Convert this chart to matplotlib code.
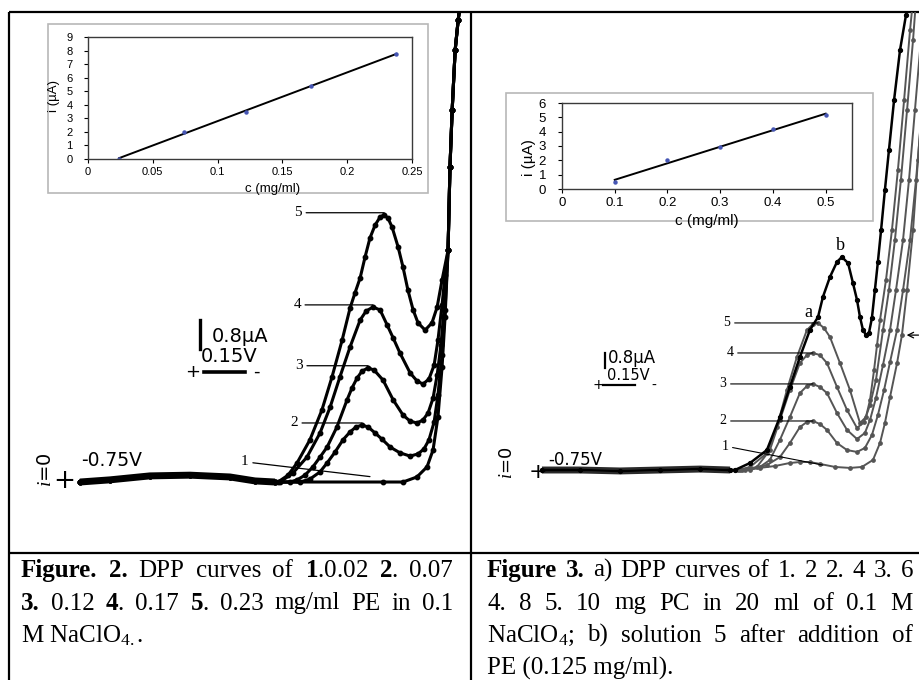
import numpy as np
import matplotlib
matplotlib.use('Agg')
import matplotlib.pyplot as plt
from matplotlib.patches import Rectangle
from matplotlib.ticker import FormatStrFormatter

plt.rcParams['font.family'] = ['DejaVu Sans']
plt.rcParams['mathtext.fontset'] = 'custom'
plt.rcParams['mathtext.rm'] = 'Liberation Serif'
plt.rcParams['mathtext.bf'] = 'Liberation Serif:bold'
plt.rcParams['mathtext.it'] = 'Liberation Serif:italic'

# ---- Figure 2 : DPP curves of PE (potential V, current uA) ----
fig2_base_E = [-0.75, -0.86, -1.006, -1.153, -1.299, -1.391, -1.464]
fig2_base_i = [0.0, 0.06, 0.17, 0.19, 0.14, 0.03, 0.0]
fig2_tail_E = [-2.098, -2.105, -2.113, -2.124, -2.135, -2.142]
fig2_tail_i = [6.44, 8.75, 10.33, 12.0, 12.83, 13.25]

fig2_c1_E = [-1.860, -1.933, -1.984, -2.021, -2.043, -2.061, -2.076, -2.087]
fig2_c1_i = [0.0, 0.0, 0.14, 0.42, 0.89, 1.81, 3.19, 4.58]
fig2_c2_E = [-1.556, -1.592, -1.629, -1.655, -1.684, -1.713, -1.739, -1.761, -1.783, -1.805, -1.831, -1.856,
             -1.886, -1.922, -1.959, -1.988, -2.010, -2.028, -2.047, -2.061, -2.076, -2.087]
fig2_c2_i = [0.0, 0.08, 0.28, 0.53, 0.83, 1.17, 1.39, 1.53, 1.58, 1.53, 1.36, 1.19,
             0.97, 0.81, 0.72, 0.78, 0.92, 1.17, 1.67, 2.42, 3.53, 4.78]
fig2_c3_E = [-1.519, -1.545, -1.574, -1.603, -1.629, -1.655, -1.691, -1.728, -1.746, -1.765, -1.783, -1.805,
             -1.827, -1.860, -1.897, -1.933, -1.959, -1.984, -2.006, -2.025, -2.043, -2.058, -2.072, -2.083]
fig2_c3_i = [0.0, 0.06, 0.19, 0.42, 0.69, 0.97, 1.53, 2.28, 2.61, 2.89, 3.08, 3.17,
             3.11, 2.83, 2.28, 1.86, 1.69, 1.64, 1.72, 1.92, 2.33, 2.97, 3.81, 4.78]
fig2_c4_E = [-1.483, -1.530, -1.581, -1.629, -1.666, -1.702, -1.739, -1.776, -1.798, -1.823, -1.849,
             -1.875, -1.897, -1.922, -1.959, -1.984, -2.006, -2.028, -2.047, -2.061, -2.076, -2.087]
fig2_c4_i = [0.0, 0.25, 0.69, 1.36, 2.08, 2.92, 3.75, 4.5, 4.75, 4.86, 4.78,
             4.36, 4.0, 3.58, 3.03, 2.81, 2.72, 2.86, 3.25, 3.94, 4.92, 5.75]
fig2_c5_E = [-1.475, -1.512, -1.545, -1.592, -1.636, -1.673, -1.710, -1.739, -1.757, -1.776, -1.794, -1.812,
             -1.831, -1.849, -1.864, -1.878, -1.893, -1.915, -1.933, -1.951, -1.970, -1.988, -2.014,
             -2.039, -2.058, -2.076]
fig2_c5_i = [0.0, 0.19, 0.53, 1.17, 2.0, 2.92, 3.94, 4.83, 5.25, 5.67, 6.25, 6.78,
             7.14, 7.36, 7.42, 7.33, 7.08, 6.53, 5.97, 5.33, 4.78, 4.42, 4.22,
             4.42, 4.86, 5.61]

# inset of fig 2: calibration
fig2_conc = [0.024, 0.074, 0.122, 0.172, 0.238]
fig2_cur = [0.0, 2.0, 3.5, 5.4, 7.75]

# ---- Figure 3 : DPP curves of PC, b) after addition of PE ----
fig3_base_E = [-0.75, -0.928, -1.116, -1.304, -1.492, -1.633]
fig3_base_i = [0.0, 0.0, -0.05, 0.0, 0.05, 0.0]

fig3_c1_E = [-1.680, -1.773, -1.844, -1.914, -1.961, -2.008, -2.055, -2.126, -2.196, -2.252, -2.304,
             -2.337, -2.360, -2.384, -2.417, -2.440, -2.464, -2.492, -2.515, -2.539, -2.562]
fig3_c1_i = [0.0, 0.11, 0.21, 0.37, 0.42, 0.42, 0.32, 0.16, 0.11, 0.16, 0.53,
             1.42, 2.47, 3.84, 5.63, 7.11, 9.47, 12.63, 16.32, 20.0, 23.68]
fig3_c2_E = [-1.727, -1.806, -1.867, -1.914, -1.961, -1.994, -2.022, -2.055, -2.088, -2.135, -2.182, -2.229,
             -2.266, -2.299, -2.327, -2.356, -2.384, -2.417, -2.445, -2.478, -2.506, -2.534, -2.562]
fig3_c2_i = [0.0, 0.26, 0.68, 1.42, 2.26, 2.53, 2.58, 2.42, 2.11, 1.42, 1.05, 0.95,
             1.16, 1.84, 2.89, 4.21, 5.68, 7.37, 9.47, 12.11, 15.26, 18.95, 22.63]
fig3_c3_E = [-1.703, -1.773, -1.820, -1.867, -1.914, -1.961, -1.994, -2.022, -2.055, -2.088, -2.135, -2.182,
             -2.229, -2.266, -2.290, -2.318, -2.351, -2.384, -2.412, -2.445, -2.473, -2.501, -2.529]
fig3_c3_i = [0.0, 0.16, 0.53, 1.58, 2.79, 4.05, 4.42, 4.53, 4.37, 4.05, 3.0, 2.11,
             1.63, 1.95, 2.63, 3.79, 5.53, 7.37, 9.47, 12.11, 15.26, 18.95, 22.63]
fig3_c4_E = [-1.689, -1.759, -1.820, -1.867, -1.914, -1.961, -1.994, -2.022, -2.055, -2.088, -2.135, -2.182,
             -2.229, -2.262, -2.290, -2.318, -2.351, -2.379, -2.407, -2.435, -2.464, -2.492, -2.506]
fig3_c4_i = [0.0, 0.16, 1.05, 2.63, 4.21, 5.63, 6.05, 6.16, 6.05, 5.63, 4.37, 3.16,
             2.21, 2.53, 3.42, 4.74, 7.37, 9.47, 12.11, 15.26, 18.95, 22.63, 24.74]
fig3_c5_E = [-1.670, -1.727, -1.806, -1.853, -1.900, -1.947, -1.994, -2.022, -2.046, -2.074, -2.102, -2.149,
             -2.196, -2.243, -2.271, -2.290, -2.309, -2.323, -2.337, -2.365, -2.393, -2.421, -2.450,
             -2.478, -2.492]
fig3_c5_i = [0.0, 0.16, 0.89, 2.26, 4.21, 5.95, 7.37, 7.68, 7.74, 7.47, 7.0, 5.63,
             4.21, 2.47, 2.79, 3.68, 5.26, 6.58, 7.89, 10.0, 12.63, 15.79, 19.47,
             23.16, 24.74]
fig3_b_E = [-1.656, -1.727, -1.806, -1.867, -1.914, -1.961, -2.008, -2.046, -2.069, -2.102, -2.135, -2.158,
            -2.187, -2.210, -2.229, -2.243, -2.257, -2.271, -2.285, -2.299, -2.313, -2.327, -2.342,
            -2.360, -2.379, -2.403, -2.431, -2.459, -2.473]
fig3_b_i = [0.0, 0.37, 1.05, 2.79, 4.37, 5.95, 7.37, 8.05, 9.11, 10.16, 10.95, 11.21,
            10.89, 9.84, 8.95, 8.05, 7.37, 7.11, 7.21, 8.0, 9.47, 10.95, 12.63,
            14.74, 16.84, 19.47, 22.11, 23.95, 24.74]

# inset of fig 3: calibration
fig3_conc = [0.1, 0.2, 0.3, 0.4, 0.5]
fig3_cur = [0.47, 2.0, 2.95, 4.16, 5.16]

# captions (text, bold)
left_caption = [
    [('Figure.', 1), ('2.', 1), ('DPP', 0), ('curves', 0), ('of', 0), (r'$\mathbf{1}$.0.02', 0),
     (r'$\mathbf{2}$.', 0), ('0.07', 0)],
    [('3.', 1), ('0.12', 0), (r'$\mathbf{4}$.', 0), ('0.17', 0), (r'$\mathbf{5}$.', 0), ('0.23', 0),
     ('mg/ml', 0), ('PE', 0), ('in', 0), ('0.1', 0)],
]
left_last = r'M NaClO$_\mathrm{4.}$.'
right_caption = [
    [('Figure', 1), ('3.', 1), ('a)', 0), ('DPP', 0), ('curves', 0), ('of', 0), ('1.', 0), ('2', 0),
     ('2.', 0), ('4', 0), ('3.', 0), ('6', 0)],
    [('4.', 0), ('8', 0), ('5.', 0), ('10', 0), ('mg', 0), ('PC', 0), ('in', 0), ('20', 0), ('ml', 0),
     ('of', 0), ('0.1', 0), ('M', 0)],
    [(r'NaClO$_\mathrm{4}$;', 0), ('b)', 0), ('solution', 0), ('5', 0), ('after', 0), ('addition', 0),
     ('of', 0)],
]
right_last = 'PE (0.125 mg/ml).'

W, H = 919, 680
fig = plt.figure(figsize=(W / 100, H / 100), dpi=100)
fig.patch.set_facecolor('white')


def px_axes(l, t, r, b):
    return fig.add_axes([l / W, 1 - b / H, (r - l) / W, (b - t) / H])


def first_peak(E, I):
    k = int(np.argmax(np.diff(I) < 0))
    return E[k], I[k]


# table lines
canvas = fig.add_axes([0, 0, 1, 1])
canvas.set_xlim(0, W)
canvas.set_ylim(H, 0)
canvas.axis('off')
for xs, ys in [([9, W], [12, 12]), ([9, W], [553, 553]), ([9, 9], [12, H]), ([471, 471], [12, H])]:
    canvas.plot(xs, ys, color='k', lw=1.6, solid_capstyle='butt')

# ---------------- left panel ----------------
ax2 = px_axes(9, 12, 471, 553)
ax2.set_xlim(-0.490, -2.182)
ax2.set_ylim(-1.972, 13.056)
ax2.axis('off')

ax2.plot(fig2_base_E, fig2_base_i, color='k', lw=5, solid_capstyle='butt')
fig2_curves = [(fig2_c1_E, fig2_c1_i), (fig2_c2_E, fig2_c2_i), (fig2_c3_E, fig2_c3_i),
               (fig2_c4_E, fig2_c4_i), (fig2_c5_E, fig2_c5_i)]
for E, I in fig2_curves:
    ax2.plot(np.r_[fig2_base_E, E, fig2_tail_E], np.r_[fig2_base_i, I, fig2_tail_i],
             '-o', color='k', lw=2.2, ms=3.2)

serif = 'Liberation Serif'
for lab, (E, I), xt in [('5', fig2_curves[4], -1.549), ('4', fig2_curves[3], -1.545),
                        ('3', fig2_curves[2], -1.552), ('2', fig2_curves[1], -1.534)]:
    pe, pi = first_peak(E, I)
    ax2.annotate(lab, xy=(pe, pi + 0.06), xytext=(xt, pi + 0.06), ha='center', va='center',
                 fontsize=11, family=serif,
                 arrowprops=dict(arrowstyle='-', lw=0.9, color='k', shrinkA=1, shrinkB=0))
ax2.annotate('1', xy=(-1.812, 0.15), xytext=(-1.354, 0.56), ha='center', va='center',
             fontsize=11, family=serif,
             arrowprops=dict(arrowstyle='-', lw=0.9, color='k', shrinkA=1, shrinkB=0))

# scale bars
ax2.plot([-1.19, -1.19], [3.7, 3.7 + 0.8], color='k', lw=2.4)
ax2.text(-1.234, 4.05, '0.8µA', fontsize=14, ha='left', va='center')
ax2.plot([-1.204, -1.204 - 0.15], [3.06, 3.06], color='k', lw=2.6)
ax2.text(-1.164, 3.06, '+', fontsize=13, ha='center', va='center')
ax2.text(-1.395, 3.06, '-', fontsize=13, ha='center', va='center')
ax2.text(-1.295, 3.5, '0.15V', fontsize=14, ha='center', va='center')
ax2.text(-0.867, 0.6, '-0.75V', fontsize=13.5, ha='center', va='center')
ax2.text(-0.692, 0.02, '+', fontsize=19, ha='center', va='center')
ax2.text(-0.625, 0.33, '$i$=0', fontsize=14, rotation=90, ha='center', va='center')

# ---------------- right panel ----------------
ax3 = px_axes(471, 12, 919, 553)
ax3.set_xlim(-0.417, -2.520)
ax3.set_ylim(-4.368, 24.105)
ax3.axis('off')

ax3.plot(fig3_base_E, fig3_base_i, color='#2a2a2a', lw=5, solid_capstyle='butt')
fig3_curves = [(fig3_c1_E, fig3_c1_i), (fig3_c2_E, fig3_c2_i), (fig3_c3_E, fig3_c3_i),
               (fig3_c4_E, fig3_c4_i), (fig3_c5_E, fig3_c5_i)]
for E, I in fig3_curves:
    ax3.plot(np.r_[fig3_base_E, E], np.r_[fig3_base_i, I], '-o', color='#555555', lw=1.4, ms=2.4)
ax3.plot(np.r_[fig3_base_E, fig3_b_E], np.r_[fig3_base_i, fig3_b_i], '-o', color='k', lw=1.8, ms=2.8)

for lab, (E, I), xt in [('5', fig3_curves[4], -1.619), ('4', fig3_curves[3], -1.633),
                        ('3', fig3_curves[2], -1.600), ('2', fig3_curves[1], -1.600)]:
    pe, pi = first_peak(E, I)
    ax3.annotate(lab, xy=(pe, pi), xytext=(xt, pi), ha='center', va='center',
                 fontsize=10, family=serif,
                 arrowprops=dict(arrowstyle='-', lw=0.8, color='k', shrinkA=1, shrinkB=0))
ax3.annotate('1', xy=(-2.069, 0.26), xytext=(-1.609, 1.26), ha='center', va='center',
             fontsize=10, family=serif,
             arrowprops=dict(arrowstyle='-', lw=0.8, color='k', shrinkA=1, shrinkB=0))
ax3.text(-1.999, 8.3, 'a', fontsize=13, family=serif, ha='center', va='center')
ax3.text(-2.149, 11.8, 'b', fontsize=13, family=serif, ha='center', va='center')
ax3.annotate('', xy=(-2.462, 7.1), xytext=(-2.518, 7.1),
             arrowprops=dict(arrowstyle='->', lw=0.9, color='k', shrinkA=0, shrinkB=0))

ax3.plot([-1.046, -1.046], [5.37, 5.37 + 0.8], color='k', lw=1.6)
ax3.text(-1.06, 5.9, '0.8µA', fontsize=12, ha='left', va='center')
ax3.plot([-1.036, -1.036 - 0.15], [4.47, 4.47], color='k', lw=1.6)
ax3.text(-1.013, 4.47, '+', fontsize=10, ha='center', va='center')
ax3.text(-1.275, 4.42, '-', fontsize=10, ha='center', va='center')
ax3.text(-1.155, 5.0, '0.15V', fontsize=10.5, ha='center', va='center')
ax3.text(-0.905, 0.55, '-0.75V', fontsize=12, ha='center', va='center')
ax3.text(-0.731, -0.12, '+', fontsize=16, ha='center', va='center')
ax3.text(-0.586, 0.37, '$i$=0', fontsize=13, rotation=90, ha='center', va='center')


# ---------------- insets ----------------
def calib_inset(frame, box, conc, cur, xmax, ymax, xstep, fs_tick, fs_lab, ypad, xlab_pos, ylab_pos):
    fl, ft, fr, fb = frame
    canvas.add_patch(Rectangle((fl, ft), fr - fl, fb - ft, fill=False, ec='#b8b8b8', lw=1.2))
    ax = px_axes(*box)
    k, b0 = np.polyfit(conc, cur, 1)
    ax.plot([conc[0], conc[-1]], [k * conc[0] + b0, k * conc[-1] + b0], color='k', lw=1.4)
    ax.plot(conc, cur, 'o', ms=2.2, color='#4656b4')
    ax.set_xlim(0, xmax)
    ax.set_ylim(0, ymax)
    ax.set_xticks(np.arange(0, xmax + 1e-9, xstep))
    ax.set_yticks(np.arange(0, ymax + 1))
    ax.xaxis.set_major_formatter(FormatStrFormatter('%g'))
    for s in ax.spines.values():
        s.set_color('#3a3a3a')
        s.set_linewidth(1.0)
    ax.tick_params(direction='out', length=3, width=0.8, labelsize=fs_tick, pad=3)
    ax.tick_params(axis='y', pad=ypad)
    for t in ax.get_xticklabels() + ax.get_yticklabels():
        t.set_family('Liberation Sans')
    ax.set_xlabel('c (mg/ml)', fontsize=fs_lab, family='Liberation Sans')
    ax.set_ylabel('i (µA)', fontsize=fs_lab, family='Liberation Sans')
    ax.xaxis.set_label_coords(*xlab_pos)
    ax.yaxis.set_label_coords(*ylab_pos)
    return ax


calib_inset((48, 24, 428, 193), (88, 37, 412, 159), fig2_conc, fig2_cur, 0.25, 9, 0.05,
            8, 9.5, 8, (0.57, -0.2), (-0.085, 0.52))
calib_inset((506, 93, 873, 221), (562, 103, 852, 189), fig3_conc, fig3_cur, 0.55, 6, 0.1,
            9.5, 11, 8.5, (0.5, -0.29), (-0.088, 0.37))

# ---------------- captions ----------------
cap_fs = 18
renderer = fig.canvas.get_renderer()


def caption_line(tokens, x0, x1, y):
    texts = [canvas.text(x0, y, s, fontsize=cap_fs, family=serif,
                         fontweight='bold' if bold else 'normal', ha='left', va='baseline')
             for s, bold in tokens]
    widths = [t.get_window_extent(renderer).width for t in texts]
    gap = (x1 - x0 - sum(widths)) / (len(texts) - 1)
    x = x0
    for t, w in zip(texts, widths):
        t.set_x(x)
        x += w + gap


line_y = [577, 609.5, 642, 674.5]
for n, line in enumerate(left_caption):
    caption_line(line, 21, 453, line_y[n])
canvas.text(21, line_y[2], left_last, fontsize=cap_fs, family=serif, ha='left', va='baseline')
for n, line in enumerate(right_caption):
    caption_line(line, 487, 913, line_y[n])
canvas.text(487, line_y[3], right_last, fontsize=cap_fs, family=serif, ha='left', va='baseline')

fig.savefig('out.png', dpi=100)
